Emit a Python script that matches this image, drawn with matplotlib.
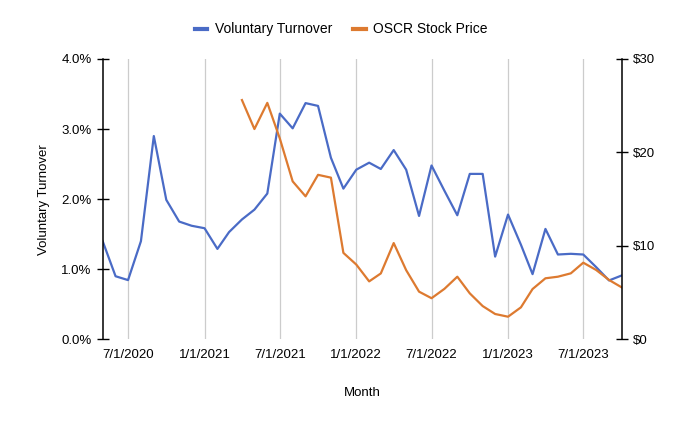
import matplotlib
matplotlib.use("Agg")
import matplotlib.pyplot as plt
import pandas as pd

plt.rcParams['font.family'] = ['Liberation Sans', 'DejaVu Sans']
plt.rcParams['font.size'] = 9.5

# monthly data, May 2020 - Oct 2023
months = pd.date_range("2020-05-01", "2023-10-01", freq="MS")
turnover = [1.40, 0.90, 0.845, 1.40, 2.90, 1.99, 1.68, 1.62,
            1.585, 1.29, 1.53, 1.71, 1.85, 2.08, 3.22, 3.01, 3.37, 3.33, 2.59, 2.15,
            2.42, 2.52, 2.43, 2.70, 2.42, 1.76, 2.48, 2.12, 1.77, 2.36, 2.36, 1.18,
            1.78, 1.35, 0.93, 1.575, 1.21, 1.22, 1.21, 1.03, 0.84, 0.91]

# stock price starts Apr 2021
price_months = pd.date_range("2021-04-01", "2023-10-01", freq="MS")
price = [25.6, 22.5, 25.3, 21.5, 16.9, 15.3, 17.6, 17.3, 9.25,
         8.0, 6.2, 7.05, 10.3, 7.4, 5.1, 4.4, 5.4, 6.7, 4.92, 3.56, 2.71,
         2.42, 3.42, 5.38, 6.53, 6.7, 7.06, 8.2, 7.42, 6.35, 5.57]

tick_dates = pd.to_datetime(["2020-07-01", "2021-01-01", "2021-07-01", "2022-01-01",
                             "2022-07-01", "2023-01-01", "2023-07-01"])

blue = "#4a6bc6"
orange = "#dd7a30"

fig = plt.figure(figsize=(6.8, 4.21), dpi=100)
ax = fig.add_axes([0.151, 0.194, 0.763, 0.666])
ax2 = ax.twinx()

l1, = ax.plot(months, [v / 100 for v in turnover], color=blue, lw=1.6, label="Voluntary Turnover")
l2, = ax2.plot(price_months, price, color=orange, lw=1.6, label="OSCR Stock Price")

ax.set_xlim(months[0], months[-1])
ax.set_ylim(0, 0.04)
ax2.set_ylim(0, 30)
ax.set_yticks([0, 0.01, 0.02, 0.03, 0.04])
ax.set_yticklabels(["0.0%", "1.0%", "2.0%", "3.0%", "4.0%"])
ax2.set_yticks([0, 10, 20, 30])
ax2.set_yticklabels(["$0", "$10", "$20", "$30"])

ax.set_xticks(tick_dates)
ax.set_xticklabels([f"{d.month}/1/{d.year}" for d in tick_dates])
ax.tick_params(axis="x", length=0, pad=7)
ax.xaxis.grid(True, color="#cccccc", lw=0.9)
ax.set_axisbelow(True)

for a in (ax, ax2):
    a.spines["top"].set_visible(False)
    a.spines["bottom"].set_visible(False)
    a.tick_params(axis="y", direction="inout", length=8, width=1, pad=4)
ax2.spines["left"].set_visible(False)
ax.spines["right"].set_visible(False)
ax.spines["left"].set_linewidth(1.1)
ax2.spines["right"].set_linewidth(1.1)

ax.set_xlabel("Month", labelpad=19)
ax.set_ylabel("Voluntary Turnover", labelpad=8)

leg = fig.legend(handles=[l1, l2], loc="center", bbox_to_anchor=(0.502, 0.93), ncol=2,
                 frameon=False, handlelength=0.9, handletextpad=0.55, columnspacing=1.5,
                 fontsize=10)
for h in leg.legend_handles:
    h.set_linewidth(3)

fig.savefig("out.png", dpi=100)
